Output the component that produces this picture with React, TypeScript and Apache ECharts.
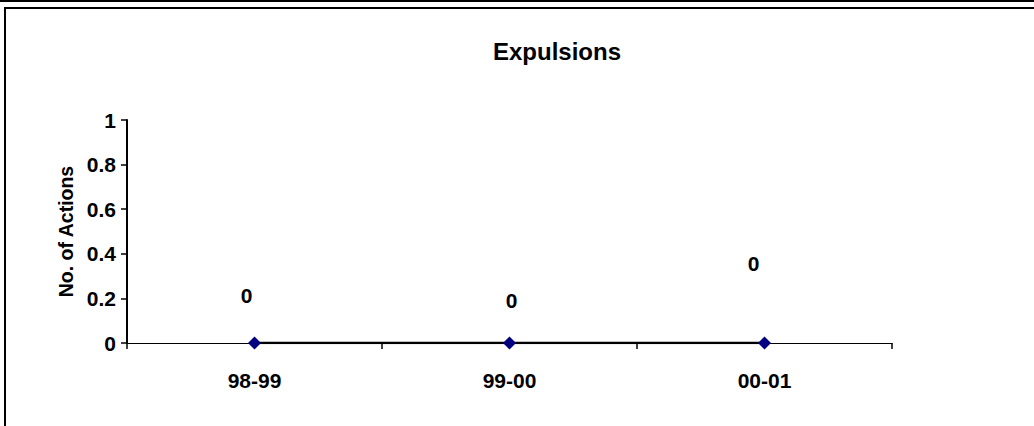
import React, { useEffect, useRef } from "react";
import * as echarts from "echarts";

const categories = ["98-99", "99-00", "00-01"];
const expulsions = [0, 0, 0];
const yTicks = [0, 0.2, 0.4, 0.6, 0.8, 1];
const labelOffsets: [number, number][] = [[-8, -48], [2, -43], [-11, -80]];

const FONT = "'Liberation Sans', Arial, sans-serif";

export default function App() {
  const ref = useRef<HTMLDivElement>(null);
  useEffect(() => {
    if (!ref.current) return;
    const chart = echarts.init(ref.current, undefined, { renderer: "svg" });
    chart.setOption({
      animation: false,
      backgroundColor: "#fff",
      title: {
        text: "Expulsions",
        left: 552,
        top: 34,
        textAlign: "center",
        textStyle: { fontFamily: FONT, fontWeight: "bold", fontSize: 24, color: "#000" },
      },
      graphic: [
        { type: "line", shape: { x1: 0, y1: 1, x2: 1034, y2: 1 }, style: { stroke: "#000", lineWidth: 2 } },
        { type: "rect", shape: { x: 5, y: 8, width: 1100, height: 600 }, style: { fill: "none", stroke: "#000", lineWidth: 2 } },
      ],
      grid: { left: 127, right: 142, top: 120, bottom: 83, containLabel: false },
      xAxis: {
        type: "category",
        data: categories,
        boundaryGap: true,
        axisLine: { show: true, lineStyle: { color: "#000", width: 1 } },
        axisTick: { show: true, length: 6, inside: false, alignWithLabel: false, lineStyle: { color: "#000", width: 1.5 } },
        axisLabel: { margin: 27, fontFamily: FONT, fontWeight: "bold", fontSize: 21, color: "#000" },
        splitLine: { show: false },
      },
      yAxis: {
        type: "value",
        min: 0,
        max: 1,
        interval: 0.2,
        name: "No. of Actions",
        nameLocation: "middle",
        nameGap: 44,
        nameTextStyle: { fontFamily: FONT, fontWeight: "bold", fontSize: 19.5, color: "#000" },
        axisLine: { show: true, lineStyle: { color: "#000", width: 2 } },
        axisTick: { show: true, length: 6, inside: false, lineStyle: { color: "#000", width: 1.5 } },
        axisLabel: {
          margin: 11,
          fontFamily: FONT,
          fontWeight: "bold",
          fontSize: 21,
          color: "#000",
          customValues: yTicks,
          formatter: (v: number) => String(Math.round(v * 10) / 10),
        },
        splitLine: { show: false },
      },
      series: [
        {
          type: "line",
          data: expulsions.map((v, i) => ({
            value: v,
            label: { offset: labelOffsets[i] },
          })),
          symbol: "diamond",
          symbolSize: 13,
          itemStyle: { color: "#000080" },
          lineStyle: { color: "#000", width: 2.5 },
          label: {
            show: true,
            position: "inside",
            fontFamily: FONT,
            fontWeight: "bold",
            fontSize: 21,
            color: "#000",
          },
          z: 5,
        },
      ],
    });
    return () => chart.dispose();
  }, []);
  return (
    <div
      ref={ref}
      style={{ position: "fixed", left: 0, top: 0, width: 1034, height: 426 }}
    />
  );
}
